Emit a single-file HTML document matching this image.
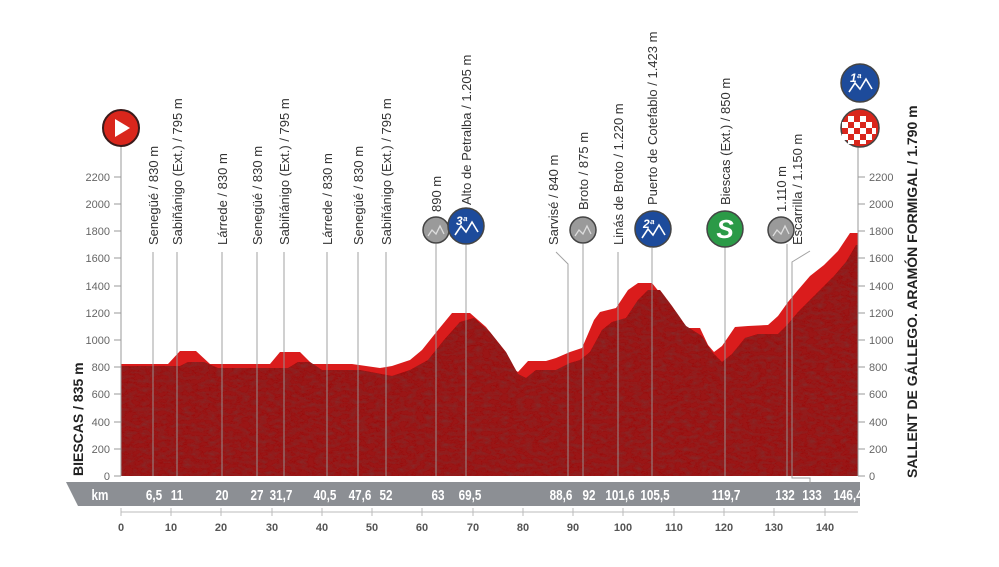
<!DOCTYPE html>
<html><head><meta charset="utf-8"><style>
html,body{margin:0;padding:0;background:#fff;}
svg{display:block}
.lab{font-family:"Liberation Sans",sans-serif;font-size:13px;fill:#333;}
.ax{font-family:"Liberation Sans",sans-serif;font-size:11px;fill:#666;}
.km{font-family:"Liberation Sans",sans-serif;font-size:15px;fill:#fff;font-weight:bold;}
.big{font-family:"Liberation Sans",sans-serif;font-size:14px;font-weight:bold;fill:#222;}
</style></head><body>
<svg width="999" height="567" viewBox="0 0 999 567" xmlns="http://www.w3.org/2000/svg">
<defs>
<filter id="tex" x="0" y="0" width="1" height="1">
<feTurbulence type="fractalNoise" baseFrequency="0.12 0.25" numOctaves="3" seed="3" result="n"/>
<feColorMatrix in="n" type="matrix" values="0 0 0 0 0.25  0 0 0 0 0.02  0 0 0 0 0.02  0 0 0 -2.2 1.35" result="m"/>
<feComposite in="m" in2="SourceGraphic" operator="in" result="c"/>
<feMerge><feMergeNode in="SourceGraphic"/><feMergeNode in="c"/></feMerge>
</filter>
<clipPath id="cp"><rect x="121" y="100" width="737" height="376"/></clipPath>
</defs>
<g clip-path="url(#cp)">
<polygon fill="#da1c1c" points="121,476 121,364 168,364 180,351 196,351 210,364 222,364 270,364 280,352 300,352 312,364 352,364 380,368 392,366 410,360 422,350 438,330 452,313 470,313 486,327 500,345 512,368 518,372 528,361 546,361 556,358 570,352 582,348 594,320 600,312 616,308 628,290 638,283 652,283 664,298 678,318 685,328 700,328 708,345 714,352 722,346 735,327 748,326 768,325 778,316 788,302 798,290 810,276 824,265 838,251 850,233 858,233 858,476"/>
<polygon fill="#9a1212" filter="url(#tex)" points="121,476 121,366 180,366 188,362 204,362 218,368 288,368 298,362 310,362 322,370 360,370 392,376 410,370 428,360 444,340 460,322 474,318 490,332 506,352 518,374 526,378 536,370 556,370 570,363 580,360 590,352 602,330 612,322 626,318 638,300 648,290 660,290 672,306 686,326 702,336 712,352 722,362 732,354 745,338 758,334 778,334 788,324 798,312 808,302 820,290 834,276 846,262 856,245 858,245 858,476"/>
</g>
<polygon fill="#8c8f94" points="66,482 860,482 860,506 78,506"/>
<line x1="121" y1="512" x2="858" y2="512" stroke="#bbb" stroke-width="1"/>
<g class="ax" text-anchor="middle" font-size="12" style="font-weight:bold;fill:#555">
<text x="121" y="531">0</text><text x="171" y="531">10</text><text x="221" y="531">20</text><text x="272" y="531">30</text><text x="322" y="531">40</text><text x="372" y="531">50</text><text x="422" y="531">60</text><text x="473" y="531">70</text><text x="523" y="531">80</text><text x="573" y="531">90</text><text x="623" y="531">100</text><text x="674" y="531">110</text><text x="724" y="531">120</text><text x="774" y="531">130</text><text x="825" y="531">140</text>
</g>
<g stroke="#bbb"><line x1="121" y1="508" x2="121" y2="516"/><line x1="171" y1="508" x2="171" y2="516"/><line x1="221" y1="508" x2="221" y2="516"/><line x1="272" y1="508" x2="272" y2="516"/><line x1="322" y1="508" x2="322" y2="516"/><line x1="372" y1="508" x2="372" y2="516"/><line x1="422" y1="508" x2="422" y2="516"/><line x1="473" y1="508" x2="473" y2="516"/><line x1="523" y1="508" x2="523" y2="516"/><line x1="573" y1="508" x2="573" y2="516"/><line x1="623" y1="508" x2="623" y2="516"/><line x1="674" y1="508" x2="674" y2="516"/><line x1="724" y1="508" x2="724" y2="516"/><line x1="774" y1="508" x2="774" y2="516"/><line x1="825" y1="508" x2="825" y2="516"/></g>
<g class="km" text-anchor="middle" transform="scale(0.78,1)">
<text x="128.2" y="500">km</text>
<text x="197.4" y="500">6,5</text><text x="226.9" y="500">11</text><text x="284.6" y="500">20</text><text x="329.5" y="500">27</text><text x="360.3" y="500">31,7</text><text x="416.7" y="500">40,5</text><text x="461.5" y="500">47,6</text><text x="494.9" y="500">52</text><text x="561.5" y="500">63</text><text x="602.6" y="500">69,5</text><text x="719.2" y="500">88,6</text><text x="755.1" y="500">92</text><text x="794.9" y="500">101,6</text><text x="839.7" y="500">105,5</text><text x="930.8" y="500">119,7</text><text x="1006.4" y="500">132</text><text x="1041" y="500">133</text><text x="1087.2" y="500">146,4</text>
</g>
<g class="ax" text-anchor="end">
<text x="110" y="480">0</text><text x="110" y="453">200</text><text x="110" y="426">400</text><text x="110" y="398">600</text><text x="110" y="371">800</text><text x="110" y="344">1000</text><text x="110" y="317">1200</text><text x="110" y="290">1400</text><text x="110" y="262">1600</text><text x="110" y="235">1800</text><text x="110" y="208">2000</text><text x="110" y="181">2200</text>
</g>
<g class="ax" text-anchor="start">
<text x="869" y="480">0</text><text x="869" y="453">200</text><text x="869" y="426">400</text><text x="869" y="398">600</text><text x="869" y="371">800</text><text x="869" y="344">1000</text><text x="869" y="317">1200</text><text x="869" y="290">1400</text><text x="869" y="262">1600</text><text x="869" y="235">1800</text><text x="869" y="208">2000</text><text x="869" y="181">2200</text>
</g>
<g stroke="#999" stroke-width="1">
<line x1="121" y1="145" x2="121" y2="476"/><line x1="858" y1="145" x2="858" y2="476"/>
<line x1="114" y1="476" x2="121" y2="476"/><line x1="114" y1="449" x2="121" y2="449"/><line x1="114" y1="422" x2="121" y2="422"/><line x1="114" y1="394" x2="121" y2="394"/><line x1="114" y1="367" x2="121" y2="367"/><line x1="114" y1="340" x2="121" y2="340"/><line x1="114" y1="313" x2="121" y2="313"/><line x1="114" y1="286" x2="121" y2="286"/><line x1="114" y1="258" x2="121" y2="258"/><line x1="114" y1="231" x2="121" y2="231"/><line x1="114" y1="204" x2="121" y2="204"/><line x1="114" y1="177" x2="121" y2="177"/>
<line x1="858" y1="476" x2="865" y2="476"/><line x1="858" y1="449" x2="865" y2="449"/><line x1="858" y1="422" x2="865" y2="422"/><line x1="858" y1="394" x2="865" y2="394"/><line x1="858" y1="367" x2="865" y2="367"/><line x1="858" y1="340" x2="865" y2="340"/><line x1="858" y1="313" x2="865" y2="313"/><line x1="858" y1="286" x2="865" y2="286"/><line x1="858" y1="258" x2="865" y2="258"/><line x1="858" y1="231" x2="865" y2="231"/><line x1="858" y1="204" x2="865" y2="204"/><line x1="858" y1="177" x2="865" y2="177"/>
</g>
<g stroke="#999" stroke-width="1" fill="none" opacity="0.9">
<line x1="153" y1="252" x2="153" y2="476"/><line x1="177" y1="252" x2="177" y2="476"/><line x1="222" y1="252" x2="222" y2="476"/><line x1="257" y1="252" x2="257" y2="476"/><line x1="284" y1="252" x2="284" y2="476"/><line x1="327" y1="252" x2="327" y2="476"/><line x1="358" y1="252" x2="358" y2="476"/><line x1="386" y1="252" x2="386" y2="476"/>
<line x1="436" y1="244" x2="436" y2="476"/><line x1="466" y1="245" x2="466" y2="476"/>
<polyline points="556,252 568,264 568,476"/>
<line x1="583" y1="244" x2="583" y2="476"/><line x1="618" y1="252" x2="618" y2="476"/><line x1="652" y1="248" x2="652" y2="476"/><line x1="725" y1="246" x2="725" y2="476"/><line x1="787" y1="244" x2="787" y2="476"/>
<polyline points="810,251 792,262 792,478 810,478 810,484"/>
</g>
<g class="lab">
<text transform="translate(158,245) rotate(-90)">Senegüé / 830 m</text>
<text transform="translate(182,245) rotate(-90)">Sabiñánigo (Ext.) / 795 m</text>
<text transform="translate(227,245) rotate(-90)">Lárrede / 830 m</text>
<text transform="translate(262,245) rotate(-90)">Senegüé / 830 m</text>
<text transform="translate(289,245) rotate(-90)">Sabiñánigo (Ext.) / 795 m</text>
<text transform="translate(332,245) rotate(-90)">Lárrede / 830 m</text>
<text transform="translate(363,245) rotate(-90)">Senegüé / 830 m</text>
<text transform="translate(391,245) rotate(-90)">Sabiñánigo (Ext.) / 795 m</text>
<text transform="translate(441,212) rotate(-90)">890 m</text>
<text transform="translate(471,205) rotate(-90)">Alto de Petralba / 1.205 m</text>
<text transform="translate(558,245) rotate(-90)">Sarvisé / 840 m</text>
<text transform="translate(588,210) rotate(-90)">Broto / 875 m</text>
<text transform="translate(623,245) rotate(-90)">Linás de Broto / 1.220 m</text>
<text transform="translate(657,205) rotate(-90)">Puerto de Cotefablo / 1.423 m</text>
<text transform="translate(730,205) rotate(-90)">Biescas (Ext.) / 850 m</text>
<text transform="translate(786,212) rotate(-90)">1.110 m</text>
<text transform="translate(802,245) rotate(-90)">Escarrilla / 1.150 m</text>
</g>
<text class="big" transform="translate(83,476) rotate(-90)">BIESCAS / 835 m</text>
<text class="big" transform="translate(917,478) rotate(-90)">SALLENT DE GÁLLEGO. ARAMÓN FORMIGAL / 1.790 m</text>
<circle cx="121" cy="128" r="18" fill="#d9261c" stroke="#3a1a1a" stroke-width="2"/>
<polygon points="115,119 115,137 130,128" fill="#fff"/>
<g stroke="#444" stroke-width="1.5">
<circle cx="436" cy="230" r="13" fill="#9a9a9a"/>
<circle cx="583" cy="230" r="13" fill="#9a9a9a"/>
<circle cx="781" cy="230" r="13" fill="#9a9a9a"/>
<circle cx="466" cy="226" r="18" fill="#1d4b9b"/>
<circle cx="653" cy="229" r="18" fill="#1d4b9b"/>
<circle cx="725" cy="229" r="18" fill="#2b9a47"/>
<circle cx="860" cy="83" r="19" fill="#1d4b9b"/>
<circle cx="860" cy="128" r="19" fill="#d9261c"/>
</g>
<g fill="none" stroke="#ddd" stroke-width="1.3">
<polyline points="428,236 432,230 436,234 440,226 444,234"/>
<polyline points="575,236 579,230 583,234 587,226 591,234"/>
<polyline points="773,236 777,230 781,234 785,226 789,234"/>
</g>
<g fill="none" stroke="#fff" stroke-width="1.6">
<polyline points="455,235 461,226 466,232 472,222 478,232"/>
<polyline points="642,238 648,229 653,235 659,225 665,235"/>
<polyline points="849,92 855,83 860,89 866,79 872,89"/>
</g>
<g font-family="Liberation Sans" font-weight="bold" font-style="italic" fill="#fff">
<text x="456" y="225" font-size="12">3ª</text>
<text x="643" y="228" font-size="12">2ª</text>
<text x="850" y="82" font-size="12">1ª</text>
<text x="725" y="238" font-size="26" text-anchor="middle">S</text>
</g>
<g fill="#fff">
<rect x="848" y="116" width="6" height="6"/><rect x="860" y="116" width="6" height="6"/>
<rect x="854" y="122" width="6" height="6"/><rect x="866" y="122" width="6" height="6"/><rect x="842" y="122" width="6" height="6"/>
<rect x="848" y="128" width="6" height="6"/><rect x="860" y="128" width="6" height="6"/><rect x="872" y="128" width="4" height="6"/>
<rect x="854" y="134" width="6" height="6"/><rect x="866" y="134" width="6" height="6"/><rect x="842" y="134" width="6" height="6"/>
<rect x="848" y="140" width="6" height="4"/><rect x="860" y="140" width="6" height="4"/>
</g>
</svg>
</body></html>
